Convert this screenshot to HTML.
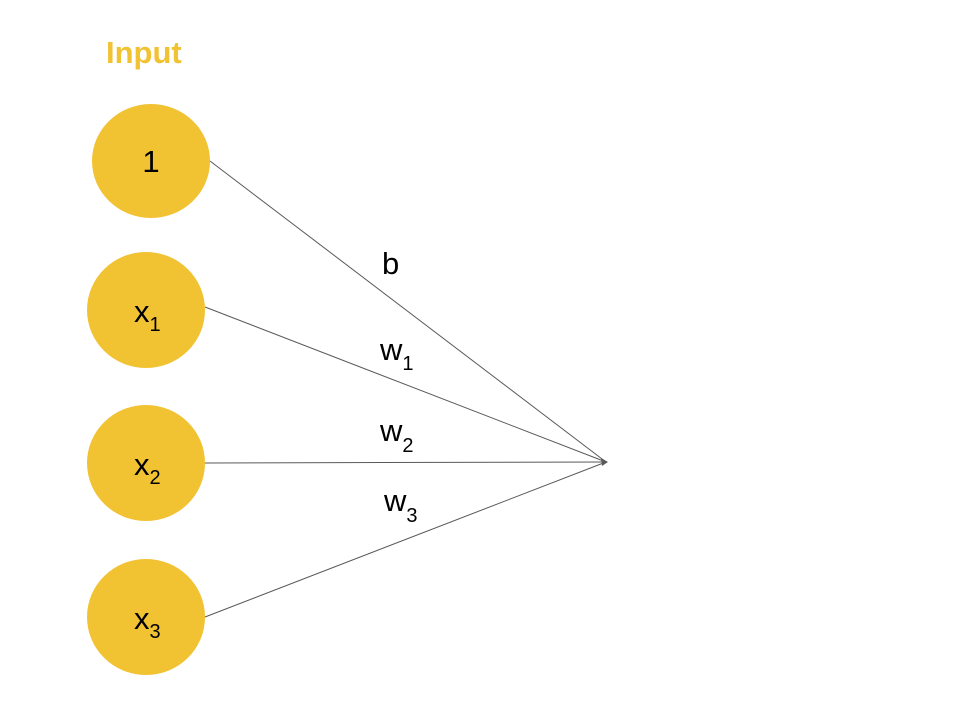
<!DOCTYPE html>
<html><head><style>html,body{margin:0;padding:0;background:#fff;}</style></head>
<body>
<svg width="960" height="720" xmlns="http://www.w3.org/2000/svg" font-family="Liberation Sans, Arial, sans-serif">
<rect width="960" height="720" fill="#fff"/>
<text x="106" y="63" font-size="31" font-weight="bold" fill="#f1c232">Input</text>
<g stroke="#595959" stroke-width="1">
<line x1="210" y1="161" x2="606" y2="462"/>
<line x1="205" y1="307" x2="606" y2="462"/>
<line x1="205" y1="463" x2="606" y2="462"/>
<line x1="205" y1="617" x2="606" y2="462"/>
</g>
<polygon points="608,462 601,458 602,466" fill="#595959"/>
<g fill="#f1c232">
<ellipse cx="151" cy="161" rx="59" ry="57"/>
<ellipse cx="146" cy="310" rx="59" ry="58"/>
<ellipse cx="146" cy="463" rx="59" ry="58"/>
<ellipse cx="146" cy="617" rx="59" ry="58"/>
</g>
<g font-size="31" fill="#000">
<text x="151" y="172" text-anchor="middle">1</text>
<text x="134" y="322">x<tspan font-size="20" dy="9">1</tspan></text>
<text x="134" y="475">x<tspan font-size="20" dy="9">2</tspan></text>
<text x="134" y="629">x<tspan font-size="20" dy="9">3</tspan></text>
<text x="382" y="274">b</text>
<text x="380" y="360">w<tspan font-size="20" dy="10">1</tspan></text>
<text x="380" y="441">w<tspan font-size="20" dy="11">2</tspan></text>
<text x="384" y="511">w<tspan font-size="20" dy="11">3</tspan></text>
</g>
</svg>
</body></html>
